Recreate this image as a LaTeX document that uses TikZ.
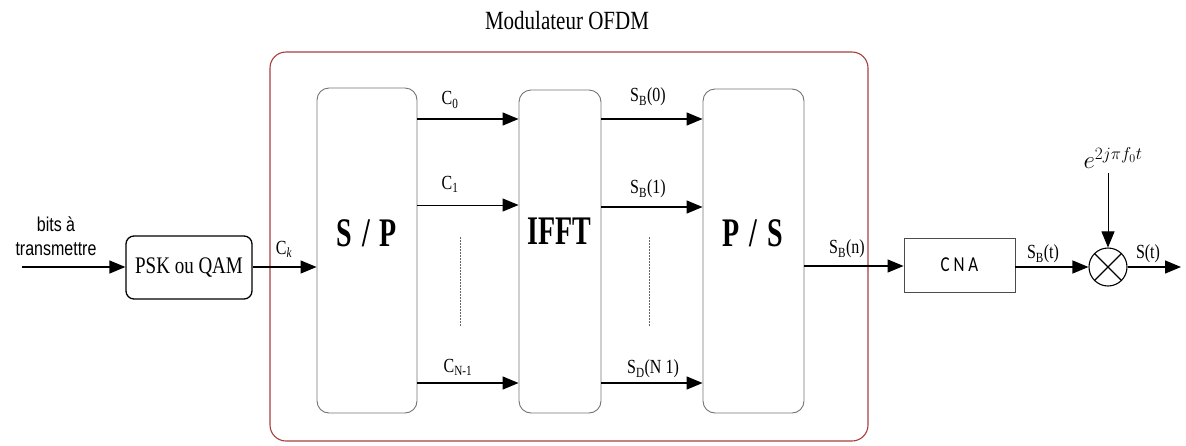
\documentclass[tikz,border=0pt]{standalone}
\usepackage{fontspec}
\usepackage{graphicx}
\setmainfont{Liberation Serif}
\newfontfamily\arialf{Liberation Sans}
\newfontfamily\calf{Carlito}
\usetikzlibrary{arrows.meta}
\newcommand{\stv}[1]{\scalebox{1}[1.25]{#1}}
\newcommand{\bigv}[1]{\scalebox{1}[1.45]{#1}}
\definecolor{redbox}{RGB}{170,60,60}
\begin{document}
\begin{tikzpicture}[x=1pt,y=1pt,
  blockbox/.style={draw=black!55,line width=0.9pt,rounded corners=12pt,inner sep=0pt},
  arr/.style={-{Triangle[length=16pt,width=13pt]},line width=1.3pt,black},
  lbl/.style={inner sep=0pt,font=\fontsize{16}{18}\selectfont},
  biglbl/.style={inner sep=0pt,font=\fontsize{28}{30}\selectfont\bfseries},
  dotline/.style={draw=black!60,line width=0.8pt,dash pattern=on 1.5pt off 1.5pt}
]
\useasboundingbox (0,0) rectangle (1186,-445);
% title and red frame
\node[lbl,font=\fontsize{21}{23}\selectfont] (title) at (567,-21) {\stv{Modulateur OFDM}};
\node[draw=redbox,line width=1.1pt,rounded corners=16pt,minimum width=598pt,minimum height=389pt,inner sep=0pt] (frame) at (569,-246.5) {};
% blocks
\node[blockbox,minimum width=100pt,minimum height=325pt] (SP) at (367,-250.5) {};
\node[blockbox,minimum width=82pt,minimum height=323pt] (IFFT) at (560,-251.5) {};
\node[blockbox,minimum width=101pt,minimum height=324pt] (PS) at (753.5,-251) {};
\node[biglbl] (SPt) at (367,-233) {\bigv{S\hspace{0.35em}/\hspace{0.35em}P}};
\node[biglbl] (IFFTt) at (559,-231) {\bigv{IFFT}};
\node[biglbl] (PSt) at (753,-233) {\bigv{P\hspace{0.35em}/\hspace{0.35em}S}};
\node[draw=black,line width=1.3pt,rounded corners=8pt,minimum width=126pt,minimum height=63pt,inner sep=0pt] (PSK) at (189,-267.5) {\stv{\fontsize{19}{21}\selectfont PSK ou QAM}};
\node[draw=black!70,line width=0.9pt,minimum width=111pt,minimum height=54pt,inner sep=0pt] (CNA) at (959.5,-265) {\stv{\calf\fontsize{17}{19}\selectfont C N A}};
\node[draw=black,line width=1.1pt,circle,minimum size=38pt,inner sep=0pt,
  path picture={\draw[line width=1.1pt] (path picture bounding box.south west) -- (path picture bounding box.north east)
    (path picture bounding box.north west) -- (path picture bounding box.south east);}] (MIX) at (1108,-267) {};
% coordinates
\coordinate (in) at (22,-267);
\coordinate (out) at (1181,-267);
\coordinate (exp) at (1108,-173);
% input
\node[inner sep=0pt,align=center,font=\arialf\fontsize{16}{24}\selectfont] (bits) at (56,-236) {\stv{bits à}\\\stv{transmettre}};
\draw[arr] (in) -- (PSK.west |- in);
\draw[arr] (PSK.east |- in) -- (SP.west |- in);
\node[lbl] (Ck) at (284,-249) {\stv{C\textsubscript{\itshape k}}};
% C arrows
\draw[arr] (SP.east |- 0,-119) -- (IFFT.west |- 0,-119);
\draw[arr,line width=1pt] (SP.east |- 0,-205) -- (IFFT.west |- 0,-205);
\draw[arr] (SP.east |- 0,-383) -- (IFFT.west |- 0,-383);
\node[lbl] (C0) at (450,-100) {\stv{C\textsubscript{0}}};
\node[lbl] (C1) at (450,-184) {\stv{C\textsubscript{1}}};
\node[lbl] (CN) at (458,-367) {\stv{C\textsubscript{N-1}}};
% S arrows
\draw[arr] (IFFT.east |- 0,-119) -- (PS.west |- 0,-119);
\draw[arr] (IFFT.east |- 0,-207) -- (PS.west |- 0,-207);
\draw[arr] (IFFT.east |- 0,-383) -- (PS.west |- 0,-383);
\node[lbl] (S0) at (648,-97) {\stv{S\textsubscript{B}(0)}};
\node[lbl] (S1) at (648,-189) {\stv{S\textsubscript{B}(1)}};
\node[lbl] (SN) at (653,-369) {\stv{S\textsubscript{D}(N 1)}};
% dotted lines
\coordinate (d1a) at (460,-237); \coordinate (d1b) at (460,-327);
\coordinate (d2a) at (649,-237); \coordinate (d2b) at (649,-327);
\draw[dotline] (d1a) -- (d1b);
\draw[dotline] (d2a) -- (d2b);
% output chain
\draw[arr] (PS.east |- 0,-266) -- (CNA.west |- 0,-266);
\node[lbl] (Sn) at (847,-249) {\stv{S\textsubscript{B}(n)}};
\draw[arr] (CNA.east |- MIX.west) -- (MIX.west);
\node[lbl] (St) at (1043,-254) {\stv{S\textsubscript{B}(t)}};
\draw[arr] (MIX.east) -- (out);
\node[lbl] (Sout) at (1148,-254) {\stv{S(t)}};
\draw[arr,line width=1pt] (exp) -- (MIX.north);
\node[inner sep=0pt,font=\fontsize{23}{25}\selectfont] (expt) at (1113,-158) {$e^{2j\pi f_0 t}$};
\end{tikzpicture}
\end{document}
